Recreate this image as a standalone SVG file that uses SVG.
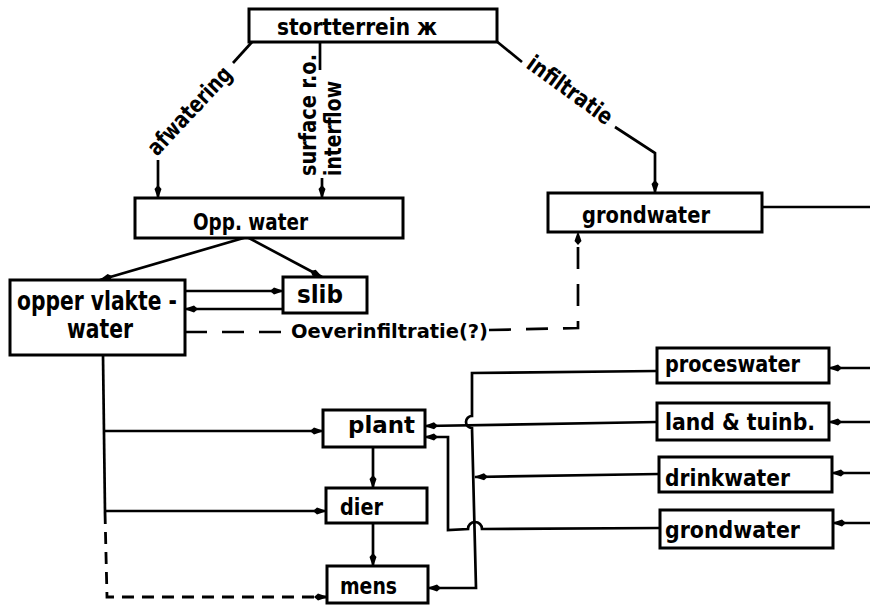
<svg xmlns="http://www.w3.org/2000/svg" width="870" height="605" viewBox="0 0 870 605">
<style>
.box{fill:#fff;stroke:#000;stroke-width:3}
.ln{fill:none;stroke:#000;stroke-width:2.7;stroke-linejoin:miter}
.dash{fill:none;stroke:#000;stroke-width:2.8;stroke-dasharray:12 8}
.dash2{fill:none;stroke:#000;stroke-width:2.7;stroke-dasharray:22 15}
text{font-family:"DejaVu Sans Condensed","DejaVu Sans",sans-serif;font-weight:bold;font-size:23px;fill:#000}
</style>
<defs>
<marker id="arr" viewBox="0 0 14 8" refX="13" refY="4" markerWidth="14" markerHeight="8" markerUnits="userSpaceOnUse" orient="auto">
<path d="M0,4 L4,0.5 L14,4 L4,7.5 z" fill="#000"/>
</marker>
</defs>
<rect width="870" height="605" fill="#fff"/>
<g id="connectors">
<path class="ln" d="M252,42 L233,63"/>
<path class="ln" d="M158,160 L158,198" marker-end="url(#arr)"/>
<path class="ln" d="M320,42 L320,70"/>
<path class="ln" d="M322,178 L322,198" marker-end="url(#arr)"/>
<path class="ln" d="M495,40 L522,62"/>
<path class="ln" d="M615,127 L655,153 L655,193" marker-end="url(#arr)"/>
<path class="ln" d="M762,207 L870,207"/>
<path class="ln" d="M247,237 L100,280" marker-end="url(#arr)"/>
<path class="ln" d="M247,237 L322,277" marker-end="url(#arr)"/>
<path class="ln" d="M185,291 L283,291" marker-end="url(#arr)"/>
<path class="ln" d="M283,309 L185,309" marker-end="url(#arr)"/>
<path class="dash2" d="M185,332 L290,332"/>
<path class="dash2" d="M489,330 L578,328 L578,232" marker-end="url(#arr)"/>
<path class="ln" d="M103,355 L105,512"/>
<path class="ln" d="M105,431 L323,431" marker-end="url(#arr)"/>
<path class="ln" d="M105,511 L326,511" marker-end="url(#arr)"/>
<path class="dash" d="M105,512 L107,597 L327,597" marker-end="url(#arr)"/>
<path class="ln" d="M373,447 L373,488" marker-end="url(#arr)"/>
<path class="ln" d="M373,523 L373,566" marker-end="url(#arr)"/>
<path class="ln" d="M657,371 L472,373 L472,416 A6,6 0 0 0 472,428 L476,588 L428,588" marker-end="url(#arr)"/>
<path class="ln" d="M657,422 L425,426" marker-end="url(#arr)"/>
<path class="ln" d="M659,474 L475,477" marker-end="url(#arr)"/>
<path class="ln" d="M660,528 L482,529 A7,7 0 0 0 468,529 L448,530 L448,437 L425,437" marker-end="url(#arr)"/>
<path class="ln" d="M870,368 L829,368" marker-end="url(#arr)"/>
<path class="ln" d="M870,422 L829,422" marker-end="url(#arr)"/>
<path class="ln" d="M870,473 L832,473" marker-end="url(#arr)"/>
<path class="ln" d="M870,523 L833,523" marker-end="url(#arr)"/>
<text transform="translate(157,157) rotate(-47)" textLength="112" lengthAdjust="spacingAndGlyphs">afwatering</text>
<text transform="translate(316,176) rotate(-90)" textLength="122" lengthAdjust="spacingAndGlyphs">surface r.o.</text>
<text transform="translate(341,176) rotate(-90)" textLength="95" lengthAdjust="spacingAndGlyphs">interflow</text>
<text transform="translate(525,67) rotate(36)" textLength="100" lengthAdjust="spacingAndGlyphs">infiltratie</text>
<text x="291" y="338" textLength="197" lengthAdjust="spacingAndGlyphs" style="font-size:20px">Oeverinfiltratie(?)</text>
</g>
<g id="stortterrein"><rect class="box" x="249" y="9" width="248" height="33"/><text x="277" y="35" textLength="160" lengthAdjust="spacingAndGlyphs">stortterrein ж</text></g>
<g id="opp-water"><rect class="box" x="135" y="198" width="268" height="40"/><text x="193" y="230" textLength="115" lengthAdjust="spacingAndGlyphs">Opp. water</text></g>
<g id="grondwater-boven"><rect class="box" x="548" y="193" width="214" height="39"/><text x="582" y="223" textLength="128" lengthAdjust="spacingAndGlyphs">grondwater</text></g>
<g id="oppervlaktewater"><rect class="box" x="10" y="280" width="175" height="75"/><text x="17" y="310" textLength="160" lengthAdjust="spacingAndGlyphs" style="font-size:26px">opper vlakte -</text><text x="67" y="338" textLength="66" lengthAdjust="spacingAndGlyphs" style="font-size:26px">water</text></g>
<g id="slib"><rect class="box" x="283" y="277" width="84" height="36"/><text x="297" y="303" textLength="46" lengthAdjust="spacingAndGlyphs" style="font-size:24px">slib</text></g>
<g id="plant"><rect class="box" x="323" y="410" width="102" height="37"/><text x="348" y="433" textLength="67" lengthAdjust="spacingAndGlyphs">plant</text></g>
<g id="dier"><rect class="box" x="326" y="488" width="101" height="35"/><text x="340" y="515" textLength="43" lengthAdjust="spacingAndGlyphs">dier</text></g>
<g id="mens"><rect class="box" x="327" y="566" width="101" height="37"/><text x="340" y="594" textLength="57" lengthAdjust="spacingAndGlyphs">mens</text></g>
<g id="proceswater"><rect class="box" x="657" y="348" width="172" height="35"/><text x="665" y="372" textLength="135" lengthAdjust="spacingAndGlyphs">proceswater</text></g>
<g id="land-tuinb"><rect class="box" x="657" y="403" width="172" height="37"/><text x="665" y="430" textLength="150" lengthAdjust="spacingAndGlyphs">land &amp; tuinb.</text></g>
<g id="drinkwater"><rect class="box" x="659" y="457" width="173" height="35"/><text x="665" y="486" textLength="125" lengthAdjust="spacingAndGlyphs">drinkwater</text></g>
<g id="grondwater-onder"><rect class="box" x="660" y="510" width="173" height="38"/><text x="665" y="538" textLength="135" lengthAdjust="spacingAndGlyphs">grondwater</text></g>
</svg>
